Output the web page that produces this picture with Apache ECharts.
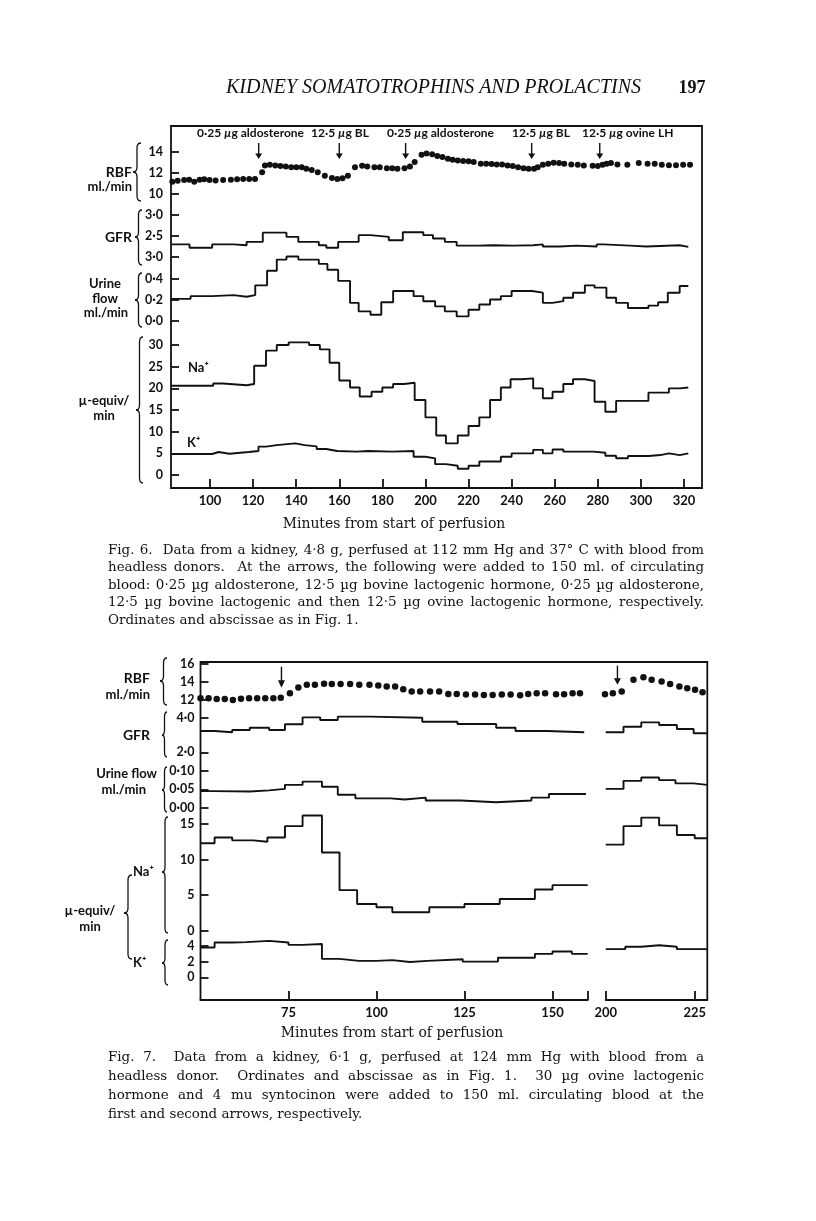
<!DOCTYPE html>
<html><head><meta charset="utf-8">
<script src="https://cdn.jsdelivr.net/npm/echarts@6/dist/echarts.min.js"></script>
<style>html,body{margin:0;padding:0;background:#fff}#c{width:816px;height:1221px}</style>
</head><body><div id="c"></div>
<script>
// ---------------- DATA ----------------
// Fig. 6
const f6XTicks = [100,120,140,160,180,200,220,240,260,280,300,320];
const f6RbfT = [82.5,85,88,90.3,92.7,95.2,97.3,99.8,102.6,106.1,109.7,112.6,115.4,118.2,120.9,124.2,125.5,127.8,130.3,132.7,135.2,137.7,140.1,142.6,144.7,147.2,150,153.3,156.6,159.1,161.5,164,167.3,170.6,173,176.3,178.8,182.1,184.6,187,190.3,192.8,195,198.2,200.5,203.1,205.5,207.9,210.4,212.6,215,217.5,220,222.4,225.7,228.2,230.7,233.1,235.6,238.1,240.5,243,245.5,247.9,250.4,252.1,254.5,257,259.5,262,264.4,267.7,270.7,273.5,277.6,280,282.2,284.1,286.1,289.1,293.7,299,303.1,306.4,309.7,313,316.3,319.6,322.8];
const f6RbfV = [11.12,11.22,11.28,11.32,11.12,11.32,11.35,11.28,11.25,11.28,11.32,11.35,11.38,11.38,11.38,12.03,12.67,12.74,12.67,12.61,12.57,12.51,12.51,12.51,12.35,12.25,12.03,11.7,11.48,11.38,11.45,11.7,12.51,12.64,12.57,12.51,12.51,12.41,12.41,12.35,12.41,12.57,13.0,13.7,13.8,13.74,13.57,13.48,13.32,13.22,13.15,13.09,13.06,13.0,12.83,12.83,12.8,12.77,12.77,12.67,12.61,12.51,12.41,12.35,12.35,12.51,12.74,12.83,12.93,12.9,12.83,12.77,12.74,12.67,12.64,12.61,12.74,12.83,12.9,12.77,12.74,12.9,12.83,12.83,12.74,12.7,12.7,12.74,12.74];
const f6ArrowT = [122.6,160,190.8,249.3,280.9];
const f6ArrowLabels = ['0·25 {i|µ}g aldosterone','12·5 {i|µ}g BL','0·25 {i|µ}g aldosterone','12·5 {i|µ}g BL','12·5 {i|µ}g ovine LH'];
const f6GfrT = [82,90.5,101,111,117,124.5,135.5,141,150.5,154,159.5,169,174.5,183,189.5,199,203.5,209,214.5,224,231.5,241,250,254.5,262.5,270,279.5,282.5,295,302.5,318,322];
const f6GfrV = [2.30,2.22,2.30,2.28,2.36,2.58,2.48,2.36,2.28,2.22,2.36,2.52,2.48,2.40,2.59,2.52,2.44,2.36,2.27,2.28,2.27,2.28,2.30,2.25,2.27,2.25,2.30,2.27,2.25,2.28,2.24];
const f6UrT = [82,91,101,111,117,121,126.5,131,135.5,141,150.5,154.5,159.5,165,169,174.5,179.5,185,194.5,199,204.5,209,214.5,220,225,230,235,240,249.5,254.5,259,264,268.5,274,278.5,284,288.5,294,303.5,308,312.5,318,322];
const f6UrV = [0.206,0.232,0.242,0.226,0.242,0.335,0.474,0.58,0.61,0.58,0.539,0.484,0.377,0.168,0.087,0.055,0.174,0.281,0.232,0.184,0.135,0.087,0.039,0.103,0.152,0.2,0.232,0.281,0.265,0.168,0.184,0.216,0.265,0.335,0.313,0.216,0.168,0.119,0.142,0.174,0.265,0.329];
const f6NaT = [82,101.5,106,117,120.5,126,131,136.5,146,151,155.5,160,165,169.5,175,180,185,190,195,200,205,209.5,215,220,225,230,235,239.5,244.5,250,254.5,259,264,268.5,274,278.5,283.5,288.5,303.5,313,318,322];
const f6NaV = [20.6,21.1,20.7,21.0,25.2,28.7,30.0,30.6,30.0,29.0,25.9,21.8,20.2,18.1,19.2,20.2,21.0,21.3,17.3,13.3,9.1,7.3,9.1,11.3,13.3,17.3,20.2,22.1,22.3,20.0,17.7,19.2,21.0,22.1,21.7,16.9,14.6,17.1,19.0,20.0,20.2];
const f6KT = [82,101,104,109,118,122.5,126,131,139.5,144,149.5,154,159,168,173.5,184.5,194.5,200,204.5,209.5,215,220,225,235,240,250,254.5,259,264,278,283.5,288.5,294,303.5,309,313,318,322];
const f6KV = [4.85,5.3,4.9,5.3,5.55,6.55,6.9,7.3,6.9,6.6,6.0,5.55,5.4,5.55,5.4,5.55,4.2,3.85,2.5,2.15,1.45,2.15,3.1,4.2,5.0,5.8,5.0,5.9,5.4,5.15,4.45,3.85,4.4,4.6,5.0,4.6,5.0];

// Fig. 7 (A = 50-160 min, B = 200-228 min)
const f7XTicksA = [75,100,125,150,160];
const f7XLabelsA = [75,100,125,150];
const f7XTicksB = [200,225];
const f7RbfTA = [50,52.3,54.6,56.9,59.2,61.5,63.8,66.1,68.4,70.7,72.8,75.4,77.8,80.2,82.5,85.1,87.3,89.8,92.5,95.1,98,100.5,102.9,105.3,107.6,110,112.4,115.2,117.8,120.4,122.8,125.4,128,130.5,133,135.6,138.1,140.8,143.1,145.5,147.9,151,153.3,155.7,157.8];
const f7RbfVA = [12.2,12.2,12.1,12.1,12.0,12.15,12.2,12.2,12.2,12.2,12.25,12.74,13.37,13.67,13.67,13.78,13.74,13.74,13.74,13.67,13.67,13.59,13.48,13.48,13.19,12.93,12.93,12.93,12.93,12.67,12.67,12.59,12.59,12.56,12.56,12.59,12.59,12.52,12.67,12.74,12.74,12.63,12.63,12.74,12.74];
const f7RbfTB = [199.8,202,204.5,207.8,210.6,212.9,215.7,218.1,220.7,222.9,225.1,227.2];
const f7RbfVB = [12.63,12.74,12.93,14.22,14.48,14.22,14.04,13.74,13.48,13.3,13.11,12.85];
const f7ArrowT = [73, 203.3];
const f7GfrTA = [50,54,59,64,69.5,74,79,84,89,98,113,123,134,139.5,148.5,159];
const f7GfrVA = [3.23,3.16,3.29,3.42,3.29,3.62,4.02,3.87,4.06,4.0,3.77,3.64,3.42,3.23,3.16];
const f7GfrTB = [200,205,210,215,220,224.7,228.5];
const f7GfrVB = [3.16,3.48,3.73,3.58,3.35,3.1];
const f7UrTA = [50,54,64,69.5,74,79,84.5,89,94,104,108,114,124,134,144,149,159.5];
const f7UrVA = [0.045,0.044,0.047,0.051,0.062,0.071,0.057,0.035,0.025,0.022,0.027,0.019,0.0145,0.019,0.027,0.037];
const f7UrTB = [200,205,210,215,219.6,224.7,228.5];
const f7UrVB = [0.051,0.073,0.082,0.075,0.066,0.062];
const f7NaTA = [50,54,59,65,69,74,79,84.5,89.5,94.5,100,104.5,115,125,135,145,150,160];
const f7NaVA = [12.3,13.1,12.7,12.5,13.1,14.7,16.2,11.0,5.7,3.75,3.3,2.6,3.3,3.75,4.45,5.8,6.4];
const f7NaTB = [200,205,210,215,220,225,228.5];
const f7NaVB = [12.1,14.7,15.9,14.8,13.45,13.0];
const f7KTA = [50,54,59,63,69.5,75,79,84.5,89.5,95,100,104.5,109.5,114.5,124.5,134.5,145,150,155.5,160];
const f7KVA = [3.8,4.45,4.5,4.65,4.45,4.15,4.25,2.35,2.1,2.1,2.2,1.95,2.1,2.3,2.0,2.5,3.0,3.3,3.0];
const f7KTB = [200,205.5,210,215,220,228.5];
const f7KVB = [3.6,3.9,4.1,3.9,3.6];

const caption6 = [
 'Fig. 6.  Data from a kidney, 4·8 g, perfused at 112 mm Hg and 37° C with blood from',
 'headless donors.  At the arrows, the following were added to 150 ml. of circulating',
 'blood: 0·25 µg aldosterone, 12·5 µg bovine lactogenic hormone, 0·25 µg aldosterone,',
 '12·5 µg bovine lactogenic and then 12·5 µg ovine lactogenic hormone, respectively.',
 'Ordinates and abscissae as in Fig. 1.'];
const caption7 = [
 'Fig. 7.  Data from a kidney, 6·1 g, perfused at 124 mm Hg with blood from a',
 'headless donor.  Ordinates and abscissae as in Fig. 1.  30 µg ovine lactogenic',
 'hormone and 4 mu syntocinon were added to 150 ml. circulating blood at the',
 'first and second arrows, respectively.'];

// ---------------- BUILD ----------------
const INK = '#111111';
const SANS = 'Lato';
const SERIF = 'DejaVu Serif';
const F6X0 = 81.9, F6X1 = 328.36;
const F7A0 = 50, F7A1 = 160, F7B0 = 200, F7B1 = 228.54;

const grids = [], xAxes = [], yAxes = [], series = [], graphics = [];
function addGrid(g, x, y) {
  const i = grids.length;
  grids.push(g); x.gridIndex = i; y.gridIndex = i; xAxes.push(x); yAxes.push(y);
  return i;
}
const hidX = (a, b) => ({type: 'value', min: a, max: b, show: false});
const hidY = (a, b) => ({type: 'value', min: a, max: b, show: false});
function yAx(min, max, interval, fmt, margin) {
  return {type: 'value', min, max, interval,
    axisLine: {show: false},
    axisTick: {show: true, inside: true, length: 8, lineStyle: {color: INK, width: 1.8}},
    axisLabel: {margin: margin, formatter: fmt, color: INK, fontFamily: SANS, fontWeight: 'bold', fontSize: 12.5},
    splitLine: {show: false}};
}
function xAx(min, max, ticks, labels) {
  return {type: 'value', min, max,
    axisLine: {show: true, lineStyle: {color: INK, width: 1.8}},
    axisTick: {show: true, inside: true, length: 9, customValues: ticks, lineStyle: {color: INK, width: 1.8}},
    axisLabel: {show: true, customValues: labels, margin: 6, color: INK, fontFamily: SANS, fontWeight: 'bold', fontSize: 13},
    splitLine: {show: false}};
}
const dot = v => String(v);
const mid = d => v => v.toFixed(d).replace('.', '·');

function dots(gi, ts, vs, size) {
  series.push({type: 'scatter', xAxisIndex: gi, yAxisIndex: gi, silent: true, clip: false,
    data: ts.map((t, i) => [t, vs[i]]), symbolSize: size, itemStyle: {color: INK, opacity: 1}});
}
function steps(gi, ts, vs) {
  const d = vs.map((v, i) => [ts[i], v]);
  d.push([ts[ts.length - 1], vs[vs.length - 1]]);
  series.push({type: 'line', step: 'end', xAxisIndex: gi, yAxisIndex: gi, silent: true, clip: false,
    data: d, showSymbol: false, lineStyle: {color: INK, width: 1.9}});
}
const ARROW = 'path://M4,0 L6,0 L6,13 L10,13 L5,20 L0,13 L4,13 Z';
function arrows(gi, ts, yv, size) {
  series.push({type: 'scatter', xAxisIndex: gi, yAxisIndex: gi, silent: true, clip: false,
    data: ts.map(t => [t, yv]), symbol: ARROW, symbolSize: size, itemStyle: {color: INK, opacity: 1}});
}

// Fig 6 grids
const g6f = addGrid({left: 171, top: 126, width: 531, height: 362, show: true, borderColor: INK, borderWidth: 1.8},
  xAx(F6X0, F6X1, f6XTicks, f6XTicks), hidY(0, 1));
const g6r = addGrid({left: 171, top: 151.5, width: 531, height: 42}, hidX(F6X0, F6X1), yAx(10, 14, 2, dot, 8));
const g6g = addGrid({left: 171, top: 215, width: 531, height: 42}, hidX(F6X0, F6X1),
  yAx(2, 3, 0.5, v => (v === 2 ? '3·0' : v.toFixed(1).replace('.', '·')), 8));
const g6u = addGrid({left: 171, top: 278.5, width: 531, height: 42}, hidX(F6X0, F6X1), yAx(0, 0.4, 0.2, mid(1), 8));
const g6n = addGrid({left: 171, top: 345, width: 531, height: 130}, hidX(F6X0, F6X1), yAx(0, 30, 5, dot, 8));

dots(g6r, f6RbfT, f6RbfV, 6);
arrows(g6r, f6ArrowT, 14.05, [7, 16]);
steps(g6g, f6GfrT, f6GfrV);
steps(g6u, f6UrT, f6UrV);
steps(g6n, f6NaT, f6NaV);
steps(g6n, f6KT, f6KV);

// Fig 7 grids
const A = {left: 200.5, width: 387.2}, B = {left: 605.7, width: 101.6};
const g7fA = addGrid(Object.assign({top: 662, height: 338}, A), xAx(F7A0, F7A1, f7XTicksA, f7XLabelsA), hidY(0, 1));
const g7fB = addGrid(Object.assign({top: 662, height: 338}, B), xAx(F7B0, F7B1, f7XTicksB, f7XTicksB), hidY(0, 1));
const panels7 = [
  {top: 663.5, h: 36.5, min: 12, max: 16, iv: 2, fmt: dot},
  {top: 717.7, h: 34.6, min: 2, max: 4, iv: 2, fmt: mid(1)},
  {top: 771, h: 36.5, min: 0, max: 0.1, iv: 0.05, fmt: mid(2)},
  {top: 824, h: 106.7, min: 0, max: 15, iv: 5, fmt: dot},
  {top: 946, h: 31.3, min: 0, max: 4, iv: 2, fmt: dot}];
const gA = panels7.map(p => addGrid(Object.assign({top: p.top, height: p.h}, A), hidX(F7A0, F7A1), yAx(p.min, p.max, p.iv, p.fmt, 6)));
const gB = panels7.map(p => addGrid(Object.assign({top: p.top, height: p.h}, B), hidX(F7B0, F7B1), hidY(p.min, p.max)));

dots(gA[0], f7RbfTA, f7RbfVA, 6.5);
dots(gB[0], f7RbfTB, f7RbfVB, 6.5);
arrows(gA[0], [f7ArrowT[0]], 14.5, [7, 21]);
arrows(gB[0], [f7ArrowT[1]], 14.7, [7, 19]);
steps(gA[1], f7GfrTA, f7GfrVA); steps(gB[1], f7GfrTB, f7GfrVB);
steps(gA[2], f7UrTA, f7UrVA);   steps(gB[2], f7UrTB, f7UrVB);
steps(gA[3], f7NaTA, f7NaVA);   steps(gB[3], f7NaTB, f7NaVB);
steps(gA[4], f7KTA, f7KVA);     steps(gB[4], f7KTB, f7KVB);

// ---------------- GRAPHICS (text, braces, frame) ----------------
function txt(text, x, y, o) {
  o = o || {};
  const st = {text, x: 0, y: 0, fill: INK, fontFamily: o.family || SANS, fontSize: o.size || 13,
    fontWeight: o.weight || 'bold', fontStyle: o.style || 'normal',
    align: o.align || 'left', verticalAlign: 'middle', textAlign: o.align || 'left', textVerticalAlign: 'middle'};
  if (o.rich) st.rich = o.rich;
  graphics.push({type: 'text', x, y, silent: true, style: st});
}
function line(x1, y1, x2, y2, w) {
  graphics.push({type: 'line', silent: true, shape: {x1, y1, x2, y2}, style: {stroke: INK, lineWidth: w || 1.3, fill: null}});
}
function quad(x1, y1, cx, cy, x2, y2, w) {
  graphics.push({type: 'bezierCurve', silent: true, shape: {x1, y1, x2, y2, cpx1: cx, cpy1: cy}, style: {stroke: INK, lineWidth: w || 1.3, fill: null}});
}
function brace(xl, xr, y1, y2, ym) {
  const xm = (xl + xr) / 2, r = 5;
  quad(xr, y1, xm, y1, xm, y1 + r);
  line(xm, y1 + r, xm, ym - r);
  quad(xm, ym - r, xm, ym, xl, ym);
  quad(xl, ym, xm, ym, xm, ym + r);
  line(xm, ym + r, xm, y2 - r);
  quad(xm, y2 - r, xm, y2, xr, y2);
}
const ctx = document.createElement('canvas').getContext('2d');
function fitSize(paragraphs, width, base) {
  ctx.font = base + 'px "' + SERIF + '"';
  let worst = 0;
  paragraphs.forEach(lines => lines.forEach((ln, i) => {
    if (i === lines.length - 1) return;
    worst = Math.max(worst, ctx.measureText(ln.replace(/  +/g, ' ')).width);
  }));
  return Math.min(base * width * 0.975 / worst, 15);
}
function caption(lines, x0, x1, y0, dy, size) {
  ctx.font = size + 'px "' + SERIF + '"';
  const sp = ctx.measureText(' ').width;
  lines.forEach((ln, i) => {
    const toks = ln.split(' ');
    const ws = toks.map(t => (t ? ctx.measureText(t).width : 0));
    const sum = ws.reduce((a, b) => a + b, 0);
    const gap = (i === lines.length - 1) ? sp : (x1 - x0 - sum) / (toks.length - 1);
    let x = x0;
    toks.forEach((t, j) => {
      if (t) txt(t, x, y0 + i * dy, {family: SERIF, size, weight: 'normal'});
      x += ws[j] + gap;
    });
  });
}
const capSize = fitSize([caption6, caption7], 596, 12);

// Page header
txt('KIDNEY SOMATOTROPHINS AND PROLACTINS', 641, 88, {family: 'Liberation Serif', size: 20, weight: 'normal', style: 'italic', align: 'right'});
txt('197', 692, 88, {family: 'Liberation Serif', size: 18, weight: 'bold', align: 'center'});

// Fig 6 labels
const richI = {i: {fontStyle: 'italic', fontFamily: SANS, fontWeight: 'bold', fontSize: 12, fill: INK}};
const f6LabX = [197, 311, 387, 512, 582];
f6ArrowLabels.forEach((s, i) => txt(s, f6LabX[i], 133, {size: 12, rich: richI}));
txt('RBF', 132, 172, {size: 14, align: 'right'});
txt('ml./min', 132, 186.5, {size: 13, align: 'right'});
txt('GFR', 132, 237, {size: 14, align: 'right'});
txt('Urine', 105, 284, {size: 13, align: 'center'});
txt('flow', 105, 298.5, {size: 13, align: 'center'});
txt('ml./min', 106, 313, {size: 13, align: 'center'});
txt('µ-equiv/', 104, 401, {size: 13, align: 'center'});
txt('min', 104, 416, {size: 13, align: 'center'});
txt('Na⁺', 188, 368, {size: 13});
txt('K⁺', 187, 443, {size: 13});
brace(133, 141, 143, 201, 172);
brace(135, 142, 210, 265, 237);
brace(135, 142, 273, 327, 300);
brace(136, 143, 337, 483, 410);
txt('Minutes from start of perfusion', 394, 524, {family: SERIF, size: capSize + 0.5, weight: 'normal', align: 'center'});
caption(caption6, 108, 704, 550, 17.5, capSize);

// Fig 7 labels
graphics.push({type: 'polyline', silent: true, shape: {points: [[200.5, 1000.5], [200.5, 662], [707.3, 662], [707.3, 1000.5]]},
  style: {stroke: INK, lineWidth: 1.8, fill: null}});
txt('RBF', 150, 678, {size: 14, align: 'right'});
txt('ml./min', 150, 695, {size: 13, align: 'right'});
txt('GFR', 150, 735, {size: 14, align: 'right'});
txt('Urine flow', 157, 774, {size: 13, align: 'right'});
txt('ml./min', 146, 790, {size: 13, align: 'right'});
txt('Na⁺', 133, 872, {size: 13});
txt('K⁺', 133, 963, {size: 13});
txt('µ-equiv/', 90, 911, {size: 13, align: 'center'});
txt('min', 90, 927, {size: 13, align: 'center'});
brace(160, 167, 658, 705, 681);
brace(162, 167, 712, 757, 735);
brace(162, 167, 767, 812, 790);
brace(162, 168, 817, 933, 872);
brace(162, 168, 940, 985, 963);
brace(124, 132, 875, 959, 913);
txt('Minutes from start of perfusion', 392, 1033, {family: SERIF, size: capSize + 0.5, weight: 'normal', align: 'center'});
caption(caption7, 108, 704, 1057, 19, capSize);

const chart = echarts.init(document.getElementById('c'), null, {renderer: 'canvas'});
chart.setOption({
  animation: false,
  backgroundColor: '#ffffff',
  grid: grids, xAxis: xAxes, yAxis: yAxes, series: series,
  graphic: {elements: graphics}
});
</script></body></html>
